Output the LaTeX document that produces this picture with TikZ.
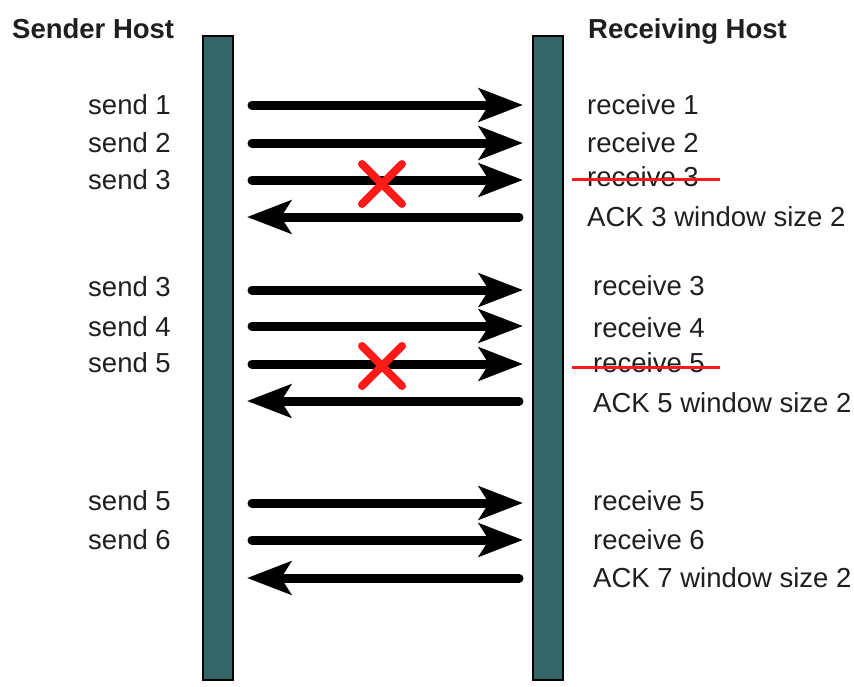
\documentclass[tikz,border=0pt]{standalone}
\usepackage{fontspec}
\setmainfont{Liberation Sans}
\usetikzlibrary{arrows.meta,calc}
\definecolor{barteal}{HTML}{336666}
\definecolor{xred}{HTML}{FF1A1A}
\tikzset{
  bar/.style={draw=black, line width=1.2pt, fill=barteal, minimum width=30pt, minimum height=644pt, inner sep=0pt, outer sep=0pt},
  msg/.style={line width=9pt, line cap=round, -{Stealth[length=44pt 0 0, width=33pt 0, inset=10pt 0]}},
  lbl/.style={font=\fontsize{27.5}{31}\selectfont, inner sep=0pt, text=black!88},
  head/.style={font=\bfseries\fontsize{27.5}{31}\selectfont, inner sep=0pt, text=black!88},
  cross/.style={draw=xred, line width=8pt, line cap=round},
  strike/.style={draw=xred, line width=3pt}
}
\begin{document}
\begin{tikzpicture}[x=1pt,y=-1pt]
\useasboundingbox (0,0) rectangle (854,686);
\fill[white] (0,0) rectangle (854,686);
% bars
\node[bar] (L) at (218,358) {};
\node[bar] (R) at (548,358) {};
% headers
\node[head, anchor=base west] (sh) at (12,38) {Sender Host};
\node[head, anchor=base west] (rh) at (588,38) {Receiving Host};
% left labels
\node[lbl, anchor=base east] (s1) at (171,114) {send 1};
\node[lbl, anchor=base east] (s2) at (171,152) {send 2};
\node[lbl, anchor=base east] (s3) at (171,189) {send 3};
\node[lbl, anchor=base east] (s3b) at (171,296) {send 3};
\node[lbl, anchor=base east] (s4) at (171,336) {send 4};
\node[lbl, anchor=base east] (s5) at (171,372) {send 5};
\node[lbl, anchor=base east] (s5b) at (171,510) {send 5};
\node[lbl, anchor=base east] (s6) at (171,549) {send 6};
% right labels
\node[lbl, anchor=base west] (r1) at (587,114) {receive 1};
\node[lbl, anchor=base west] (r2) at (587,152) {receive 2};
\node[lbl, anchor=base west] (r3) at (587,186) {receive 3};
\node[lbl, anchor=base west] (a3) at (587,226) {ACK 3 window size 2};
\node[lbl, anchor=base west] (r3b) at (593,295) {receive 3};
\node[lbl, anchor=base west] (r4) at (593,337) {receive 4};
\node[lbl, anchor=base west] (r5) at (593,372) {receive 5};
\node[lbl, anchor=base west] (a5) at (593,412) {ACK 5 window size 2};
\node[lbl, anchor=base west] (r5b) at (593,510) {receive 5};
\node[lbl, anchor=base west] (r6) at (593,549) {receive 6};
\node[lbl, anchor=base west] (a7) at (593,587) {ACK 7 window size 2};
% strike-through
\coordinate (k1a) at (572,179); \coordinate (k1b) at (720,179);
\coordinate (k2a) at (572,367); \coordinate (k2b) at (720,367);
\draw[strike] (k1a) -- (k1b);
\draw[strike] (k2a) -- (k2b);
% arrow end points
\foreach \n/\y in {1/105,2/143,3/180,4/217,5/290,6/326,7/364,8/401,9/503,10/540,11/578}{
  \coordinate (p\n) at (252,\y);
  \coordinate (q\n) at (523,\y);
}
\draw[msg] (p1) -- (q1);
\draw[msg] (p2) -- (q2);
\draw[msg] (p3) -- (q3);
\draw[msg] ($(q4)+(-4,0)$) -- ($(p4)+(-5,0)$);
\draw[msg] (p5) -- (q5);
\draw[msg] (p6) -- (q6);
\draw[msg] (p7) -- (q7);
\draw[msg] ($(q8)+(-4,0)$) -- ($(p8)+(-5,0)$);
\draw[msg] (p9) -- (q9);
\draw[msg] (p10) -- (q10);
\draw[msg] ($(q11)+(-4,0)$) -- ($(p11)+(-5,0)$);
% crosses
\coordinate (x1) at (382,184);
\coordinate (x2) at (382,366);
\draw[cross] ($(x1)+(-20,-20)$) -- ($(x1)+(20,20)$);
\draw[cross] ($(x1)+(-20,20)$) -- ($(x1)+(20,-20)$);
\draw[cross] ($(x2)+(-20,-20)$) -- ($(x2)+(20,20)$);
\draw[cross] ($(x2)+(-20,20)$) -- ($(x2)+(20,-20)$);
\end{tikzpicture}
\end{document}
